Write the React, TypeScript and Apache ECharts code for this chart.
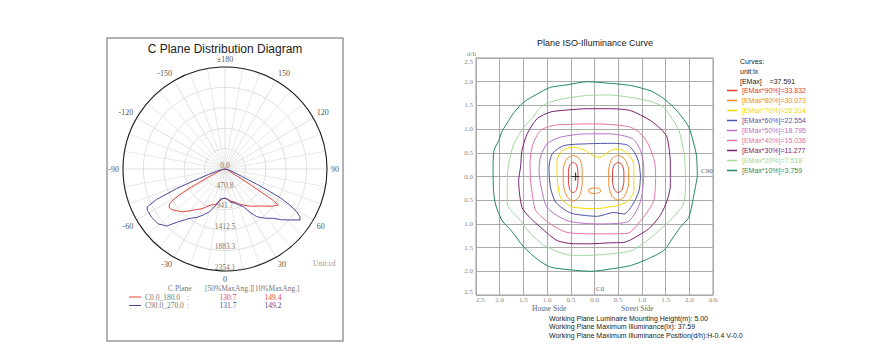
import React, { useEffect, useRef } from 'react';
import * as echarts from 'echarts';

const SERIF = "'Liberation Serif', 'DejaVu Serif', serif";
const SANS = "'Liberation Sans', Arial, sans-serif";

// ---------- C-plane intensity distribution (cd) ----------
const radialMax = 2354.13;
const radialStep = 470.826;
const c0Angles = [-90, -80, -72, -67, -64, -62, -61, -59.5, -58, -56, -53, -49, -45, -40, -35, -30, -22, -15, -10, -5, 0, 5, 10, 15, 20, 27, 35, 42, 48, 52, 56, 57, 57.5, 58, 60, 65, 75, 90];
const c0Values = [0, 40, 100, 200, 450, 800, 1100, 1350, 1500, 1560, 1555, 1470, 1400, 1260, 1140, 1060, 900, 850, 760, 690, 670, 700, 750, 780, 850, 935, 1050, 1150, 1280, 1390, 1484, 1300, 960, 700, 300, 120, 50, 0];
const c90Angles = [-90, -80, -75, -72, -70, -68, -66, -64, -62, -60, -57, -54, -50.5, -48, -45.6, -41.5, -35.4, -30, -25.3, -20, -16.6, -12, -9, -4, 0, 4, 9, 16.3, 22, 25.9, 30, 33.6, 39, 44.4, 48, 51.9, 55.8, 57.5, 59.2, 61, 62.5, 63.5, 64.5, 66, 70, 80, 90];
const c90Values = [0, 60, 200, 400, 616, 1200, 1731, 2000, 2030, 2026, 2030, 2010, 1995, 1930, 1882, 1625, 1396, 1290, 1174, 1050, 946, 800, 709, 680, 677, 700, 760, 824, 900, 967, 1150, 1322, 1460, 1593, 1750, 1907, 2093, 2050, 1926, 1700, 1450, 1100, 800, 450, 200, 60, 0];
const planeNames = ['C0.0_180.0', 'C90.0_270.0'];
const planeColors = ['#e0463f', '#4a4a9a'];
const maxAng50 = ['130.7', '131.7'];
const maxAng10 = ['149.4', '149.2'];

// ---------- Iso-illuminance curves (d/h) ----------
const levelNames = [
  '[EMax*90%]=33.832', '[EMax*80%]=30.073', '[EMax*70%]=26.314', '[EMax*60%]=22.554',
  '[EMax*50%]=18.795', '[EMax*40%]=15.036', '[EMax*30%]=11.277', '[EMax*20%]=7.518', '[EMax*10%]=3.759',
];
const levelColors = ['#e03a32', '#f08a28', '#f5d800', '#4e52a8', '#b872c8', '#e872a8', '#7a2070', '#9ed89a', '#1f8a5a'];

const iso90L = [[-0.45, 0.3], [-0.38, 0.25], [-0.35, 0.1], [-0.35, -0.1], [-0.38, -0.28], [-0.45, -0.34], [-0.52, -0.28], [-0.55, -0.1], [-0.55, 0.1], [-0.52, 0.25], [-0.45, 0.3]];
const iso90R = [[0.5, 0.3], [0.58, 0.25], [0.62, 0.1], [0.62, -0.1], [0.58, -0.28], [0.5, -0.34], [0.42, -0.28], [0.38, -0.1], [0.38, 0.1], [0.42, 0.25], [0.5, 0.3]];
const iso80L = [[-0.45, 0.45], [-0.32, 0.38], [-0.26, 0.15], [-0.26, -0.15], [-0.32, -0.42], [-0.45, -0.52], [-0.58, -0.42], [-0.66, -0.15], [-0.66, 0.15], [-0.58, 0.38], [-0.45, 0.45]];
const iso80R = [[0.5, 0.45], [0.63, 0.38], [0.72, 0.15], [0.72, -0.15], [0.63, -0.42], [0.5, -0.5], [0.37, -0.42], [0.3, -0.15], [0.3, 0.15], [0.37, 0.38], [0.5, 0.45]];
const iso80C = [[-0.12, -0.27], [0.0, -0.24], [0.12, -0.27], [0.13, -0.32], [0.0, -0.36], [-0.12, -0.33], [-0.12, -0.27]];
const iso70 = [[0.83, 0.0], [0.83, 0.25], [0.76, 0.41], [0.6, 0.55], [0.45, 0.58], [0.3, 0.52], [0.15, 0.42], [0.06, 0.41], [-0.05, 0.45], [-0.2, 0.55], [-0.44, 0.62], [-0.68, 0.55], [-0.79, 0.34], [-0.79, 0.06], [-0.72, -0.44], [-0.55, -0.6], [-0.44, -0.65], [-0.01, -0.68], [0.48, -0.61], [0.7, -0.52], [0.83, -0.3], [0.83, 0.0]];
const iso60 = [[0.97, 0.0], [0.94, 0.27], [0.85, 0.5], [0.7, 0.66], [0.4, 0.7], [-0.15, 0.69], [-0.65, 0.65], [-0.89, 0.48], [-0.96, 0.2], [-0.93, -0.23], [-0.82, -0.54], [-0.6, -0.72], [-0.44, -0.79], [0.06, -0.84], [0.4, -0.76], [0.62, -0.79], [0.8, -0.6], [0.94, -0.3], [0.97, 0.0]];
const iso50 = [[1.04, 0.0], [1.04, 0.2], [0.97, 0.55], [0.8, 0.8], [0.3, 0.9], [-0.15, 0.9], [-0.72, 0.83], [-1.0, 0.69], [-1.14, 0.41], [-1.17, 0.13], [-1.14, -0.15], [-1.0, -0.65], [-0.58, -0.93], [0.06, -1.0], [0.69, -0.96], [0.9, -0.7], [1.0, -0.4], [1.04, 0.0]];
const iso40 = [[1.29, 0.0], [1.27, 0.3], [1.15, 0.65], [1.0, 0.88], [0.76, 1.04], [0.3, 1.1], [-0.15, 1.11], [-0.5, 1.1], [-0.86, 1.08], [-1.14, 0.97], [-1.31, 0.65], [-1.36, 0.27], [-1.35, -0.08], [-1.3, -0.45], [-1.24, -0.72], [-0.93, -1.0], [-0.58, -1.18], [0.06, -1.21], [0.69, -1.2], [1.0, -0.9], [1.25, -0.51], [1.29, 0.0]];
const iso30 = [[1.6, 0.0], [1.6, 0.27], [1.53, 0.83], [1.4, 1.0], [1.18, 1.18], [0.76, 1.39], [0.3, 1.43], [-0.15, 1.43], [-0.6, 1.4], [-0.93, 1.36], [-1.21, 1.22], [-1.42, 0.9], [-1.53, 0.55], [-1.56, 0.2], [-1.6, -0.08], [-1.53, -0.65], [-1.35, -0.88], [-1.14, -1.07], [-0.79, -1.35], [-0.4, -1.42], [-0.08, -1.42], [0.3, -1.4], [0.62, -1.39], [1.0, -1.2], [1.18, -1.07], [1.4, -0.8], [1.53, -0.51], [1.6, -0.2], [1.6, 0.0]];
const iso20 = [[1.92, 0.0], [1.9, 0.4], [1.85, 0.7], [1.78, 0.97], [1.65, 1.2], [1.46, 1.46], [1.2, 1.58], [0.76, 1.67], [0.3, 1.72], [-0.15, 1.71], [-0.6, 1.65], [-0.93, 1.57], [-1.14, 1.46], [-1.3, 1.25], [-1.49, 1.04], [-1.7, 0.69], [-1.81, 0.27], [-1.84, -0.1], [-1.84, -0.58], [-1.7, -0.78], [-1.56, -0.93], [-1.35, -1.21], [-1.0, -1.49], [-0.44, -1.67], [0.13, -1.65], [0.76, -1.57], [1.11, -1.35], [1.4, -1.1], [1.6, -0.93], [1.75, -0.75], [1.88, -0.58], [1.92, -0.2], [1.92, 0.0]];
const iso10 = [[2.17, 0.0], [2.15, 0.45], [2.08, 0.75], [1.99, 1.04], [1.85, 1.25], [1.67, 1.46], [1.45, 1.65], [1.2, 1.8], [0.76, 1.92], [0.27, 1.97], [-0.15, 2.0], [-0.6, 1.93], [-0.93, 1.88], [-1.21, 1.74], [-1.49, 1.57], [-1.7, 1.35], [-1.81, 1.18], [-1.95, 0.95], [-2.02, 0.76], [-2.12, 0.55], [-2.14, 0.13], [-2.13, -0.3], [-2.09, -0.58], [-1.95, -0.93], [-1.75, -1.15], [-1.49, -1.49], [-1.2, -1.75], [-0.93, -1.91], [-0.5, -1.97], [-0.08, -2.0], [0.48, -1.93], [0.76, -1.88], [1.1, -1.75], [1.46, -1.56], [1.65, -1.3], [1.81, -1.07], [1.99, -0.86], [2.1, -0.37], [2.17, 0.0]];

const contourLoops: { level: number; points: number[][] }[] = [
  { level: 0, points: iso90L }, { level: 0, points: iso90R },
  { level: 1, points: iso80L }, { level: 1, points: iso80R }, { level: 1, points: iso80C },
  { level: 2, points: iso70 }, { level: 3, points: iso60 }, { level: 4, points: iso50 },
  { level: 5, points: iso40 }, { level: 6, points: iso30 }, { level: 7, points: iso20 }, { level: 8, points: iso10 },
];
const maxPosition = [[-0.4, 0.0]];
const axisTicks = [-2.5, 2.5];
const infoLines = [
  'Working Plane Luminaire Mounting Height(m): 5.00',
  'Working Plane Maximum Illuminance(lx): 37.59',
  'Working Plane Maximum Illuminance Position(d/h):H-0.4 V-0.0',
];
const legendHeader = ['Curves:', 'unit:lx', '[EMax]    =37.591'];

function buildOption(): any {
  const polarSeries = [
    { angles: c0Angles, values: c0Values },
    { angles: c90Angles, values: c90Values },
  ].map((s, i) => ({
    type: 'line',
    coordinateSystem: 'polar',
    polarIndex: 0,
    showSymbol: false,
    silent: true,
    z: 5,
    lineStyle: { color: planeColors[i], width: 1 },
    itemStyle: { color: planeColors[i] },
    data: s.angles.map((a, k) => [s.values[k], a < 0 ? a + 360 : a]),
  }));

  const contourSeries = contourLoops.map((c) => ({
    type: 'line',
    name: levelNames[c.level],
    xAxisIndex: 0,
    yAxisIndex: 0,
    showSymbol: false,
    silent: true,
    smooth: 0.25,
    z: 4,
    lineStyle: { color: levelColors[c.level], width: 1 },
    itemStyle: { color: levelColors[c.level] },
    data: c.points,
  }));

  const legendGraphics: any[] = [];
  legendHeader.forEach((t, i) => {
    legendGraphics.push({
      type: 'text', left: 740, top: 58 + i * 10,
      style: { text: t, fontSize: 7, fontFamily: SANS, fill: '#222' },
    });
  });
  infoLines.forEach((t, i) => {
    legendGraphics.push({
      type: 'text', left: 549, top: 314.5 + i * 8.5,
      style: { text: t, fontSize: 7, fontFamily: SANS, fill: '#222' },
    });
  });

  const planeRows: any[] = [];
  planeNames.forEach((n, i) => {
    const y = 297 + i * 8.5;
    planeRows.push(
      { type: 'line', shape: { x1: 129, y1: y, x2: 141, y2: y }, style: { stroke: planeColors[i], lineWidth: 1 } },
      { type: 'text', x: 145, y, style: { text: n, fontSize: 7.5, fontFamily: SERIF, fill: '#777', verticalAlign: 'middle' } },
      { type: 'text', x: 187, y, style: { text: ':', fontSize: 7.5, fontFamily: SERIF, fill: '#777', verticalAlign: 'middle' } },
      { type: 'text', x: 228, y, style: { text: maxAng50[i], fontSize: 7.5, fontFamily: SERIF, fill: planeColors[i], align: 'center', verticalAlign: 'middle' } },
      { type: 'text', x: 273, y, style: { text: maxAng10[i], fontSize: 7.5, fontFamily: SERIF, fill: planeColors[i], align: 'center', verticalAlign: 'middle' } },
    );
  });

  const axisLabelStyle = { fontFamily: SERIF, fontSize: 7, color: '#888' };

  return {
    animation: false,
    backgroundColor: '#fff',
    title: [
      {
        text: 'C Plane Distribution Diagram', left: 225, top: 43, textAlign: 'center', padding: 0,
        textStyle: { fontFamily: SANS, fontSize: 12, fontWeight: 'normal', color: '#222' },
      },
      {
        text: 'Plane ISO-Illuminance Curve', left: 595, top: 38, textAlign: 'center', padding: 0,
        textStyle: { fontFamily: SANS, fontSize: 9, fontWeight: 'normal', color: '#222' },
      },
    ],
    legend: {
      orient: 'vertical', left: 727, top: 87, padding: 0,
      itemWidth: 10, itemHeight: 1.5, itemGap: 3, icon: 'rect', selectedMode: false,
      textStyle: { fontSize: 7, fontFamily: SANS },
      data: levelNames.map((n, i) => ({ name: n, textStyle: { color: levelColors[i] } })),
    },
    polar: { center: [225, 169], radius: 102 },
    angleAxis: {
      type: 'value', min: 0, max: 360, interval: 30, startAngle: 270, clockwise: false,
      axisLine: { lineStyle: { color: '#222', width: 1.1 } },
      axisTick: { show: false },
      minorTick: { show: false, splitNumber: 3 },
      minorSplitLine: { show: true, lineStyle: { color: '#e2e2e2', width: 0.8 } },
      splitLine: { lineStyle: { color: '#d8d8d8', width: 0.8 } },
      axisLabel: {
        margin: 4, fontFamily: SERIF, fontSize: 8, color: '#555',
        formatter: (v: number) => (v === 180 ? '±180' : v > 180 ? String(v - 360) : String(v)),
      },
    },
    radiusAxis: {
      type: 'value', min: 0, max: radialMax, interval: radialStep,
      axisLine: { show: false }, axisTick: { show: false },
      splitLine: { lineStyle: { color: '#d8d8d8', width: 0.8 } },
      axisLabel: {
        margin: 0, align: 'center', verticalAlign: 'bottom', fontFamily: SERIF, fontSize: 7.5, color: '#777',
        formatter: (v: number) => v.toFixed(1),
      },
    },
    grid: { left: 476, top: 58, width: 237, height: 237, show: true, borderColor: '#999', borderWidth: 1 },
    xAxis: {
      type: 'value', min: axisTicks[0], max: axisTicks[1], interval: 0.5,
      axisLine: { show: false, onZero: false }, axisTick: { show: false },
      splitLine: { lineStyle: { color: '#aaa', width: 1 } },
      axisLabel: {
        ...axisLabelStyle, margin: 1, alignMinLabel: 'left',
        formatter: (v: number) => (v >= 2.5 ? 'd/h' : Math.abs(v).toFixed(1)),
      },
    },
    yAxis: {
      type: 'value', min: axisTicks[0], max: axisTicks[1], interval: 0.5,
      axisLine: { show: false, onZero: false }, axisTick: { show: false },
      splitLine: { lineStyle: { color: '#aaa', width: 1 } },
      name: 'd/h', nameLocation: 'end', nameGap: 1,
      nameTextStyle: { ...axisLabelStyle, align: 'right' },
      axisLabel: {
        ...axisLabelStyle, margin: 3, verticalAlignMinLabel: 'bottom', verticalAlignMaxLabel: 'top',
        formatter: (v: number) => Math.abs(v).toFixed(1),
      },
    },
    graphic: [
      { type: 'rect', shape: { x: 107, y: 38, width: 236, height: 303 }, style: { fill: 'none', stroke: '#999', lineWidth: 1.5 }, z: -1 },
      { type: 'text', left: 313, top: 259, style: { text: 'Unit:cd', fontSize: 7.5, fontFamily: SERIF, fill: '#999' } },
      { type: 'text', left: 168, top: 284, style: { text: 'C Plane', fontSize: 7.5, fontFamily: SERIF, fill: '#777' } },
      { type: 'text', left: 205, top: 284, style: { text: '[50%MaxAng.][10%MaxAng.]', fontSize: 7.5, fontFamily: SERIF, fill: '#777' } },
      ...planeRows,
      { type: 'text', left: 701, top: 167, style: { text: 'C90', fontSize: 7, fontFamily: SERIF, fill: '#666' } },
      { type: 'text', left: 596, top: 285, style: { text: 'C0', fontSize: 7, fontFamily: SERIF, fill: '#666' } },
      { type: 'text', left: 532, top: 304, style: { text: 'House Side', fontSize: 7.5, fontFamily: SERIF, fill: '#666' } },
      { type: 'text', left: 621, top: 304, style: { text: 'Street Side', fontSize: 7.5, fontFamily: SERIF, fill: '#666' } },
      ...legendGraphics,
    ],
    series: [
      ...polarSeries,
      ...contourSeries,
      {
        type: 'scatter', xAxisIndex: 0, yAxisIndex: 0, silent: true, z: 6,
        symbol: 'path://M0,5L10,5M5,0L5,10', symbolSize: 8,
        itemStyle: { color: 'none', borderColor: '#111', borderWidth: 1.2 },
        data: maxPosition,
      },
    ],
  };
}

export default function App() {
  const ref = useRef<HTMLDivElement>(null);
  useEffect(() => {
    document.body.style.margin = '0';
    const chart = echarts.init(ref.current as HTMLDivElement, null, { renderer: 'svg' });
    chart.setOption(buildOption());
    return () => chart.dispose();
  }, []);
  return <div ref={ref} style={{ width: 894, height: 364 }} />;
}
